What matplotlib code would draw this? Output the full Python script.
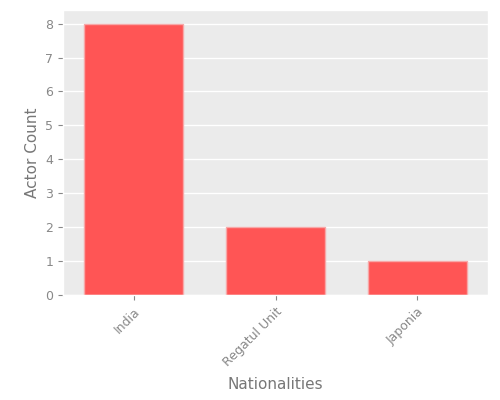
import matplotlib
matplotlib.use("Agg")
import matplotlib.pyplot as plt

plt.style.use("ggplot")

categories = ["India", "Regatul Unit", "Japonia"]
counts = [8, 2, 1]

fig, ax = plt.subplots(figsize=(5, 4), dpi=100)
ax.set_facecolor("#EBEBEB")
ax.bar(categories, counts, width=0.7, color="#FF5555", edgecolor="#F7A8A8", linewidth=1)
ax.set_xlim(-0.5, len(categories) - 0.5)
ax.grid(axis="x", visible=False)
ax.grid(axis="y", color="white", linewidth=1)
ax.set_axisbelow(True)
ax.set_xlabel("Nationalities", color="#777777", fontsize=11, labelpad=6)
ax.set_ylabel("Actor Count", color="#777777", fontsize=11)
plt.setp(ax.get_xticklabels(), rotation=45, ha="right", rotation_mode="anchor")
ax.tick_params(colors="#888888", labelsize=9)
fig.subplots_adjust(left=0.126, right=0.976, top=0.975, bottom=0.262)
fig.savefig("out.png")
